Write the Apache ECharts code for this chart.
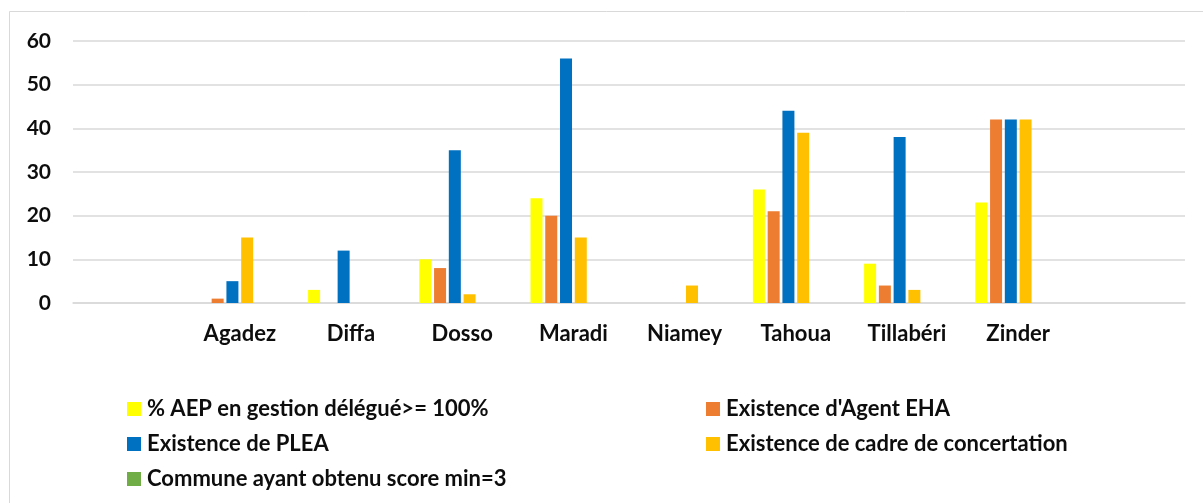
<!DOCTYPE html>
<html>
<head>
<meta charset="utf-8">
<script src="https://cdn.jsdelivr.net/npm/echarts@6/dist/echarts.min.js"></script>
<style>
  html, body { margin: 0; padding: 0; background: #fff; }
  #chart { width: 1203px; height: 503px; }
</style>
</head>
<body>
<div id="chart"></div>
<script>
// empty slots at both ends, as in the source chart
const regions = [' ', 'Agadez', 'Diffa', 'Dosso', 'Maradi', 'Niamey', 'Tahoua', 'Tillabéri', 'Zinder', '  ']

const aepGestion = [null, 0, 3, 10, 24, 0, 26, 9, 23, null]
const agentEha = [null, 1, 0, 8, 20, 0, 21, 4, 42, null]
const plea = [null, 5, 12, 35, 56, 0, 44, 38, 42, null]
const cadreConcertation = [null, 15, 0, 2, 15, 4, 39, 3, 42, null]
const scoreMin3 = [null, 0, 0, 0, 0, 0, 0, 0, 0, null]
const sixth = [null, 0, 0, 0, 0, 0, 0, 0, 0, null]

const yTicks = { min: 0, max: 60, interval: 10 }

const FONT = 'Lato, "Open Sans", sans-serif'
const TXT = '#0d0d0d'

const seriesDefs = [
  { name: '% AEP en gestion délégué>= 100%', data: aepGestion, color: '#FFFF00' },
  { name: "Existence d'Agent EHA", data: agentEha, color: '#ED7D31' },
  { name: 'Existence de PLEA', data: plea, color: '#0070C0' },
  { name: 'Existence de cadre de concertation', data: cadreConcertation, color: '#FFC000' },
  { name: 'Commune ayant obtenu score min=3', data: scoreMin3, color: '#70AD47' },
  { name: 'hidden', data: sixth, color: '#A5A5A5' },
]

const chart = echarts.init(document.getElementById('chart'))

const legendBase = {
  orient: 'vertical',
  icon: 'rect',
  itemWidth: 14,
  itemHeight: 14,
  itemGap: 9,
  padding: 0,
  selectedMode: false,
  textStyle: { fontFamily: FONT, fontWeight: 'bold', fontSize: 22, color: TXT, lineHeight: 26, padding: [0, 0, 0, 1] },
}

chart.setOption({
  animation: false,
  backgroundColor: '#fff',
  graphic: [{
    type: 'rect',
    shape: { x: 9.5, y: 11.5, width: 1210, height: 510 },
    style: { fill: 'none', stroke: '#d9d9d9', lineWidth: 1 },
    silent: true,
  }],
  grid: { left: 73, right: 18, top: 41, bottom: 200 },
  legend: [
    Object.assign({}, legendBase, {
      left: 127, top: 396,
      data: [seriesDefs[0].name, seriesDefs[2].name, seriesDefs[4].name],
    }),
    Object.assign({}, legendBase, {
      left: 706, top: 396,
      data: [seriesDefs[1].name, seriesDefs[3].name],
    }),
  ],
  xAxis: {
    type: 'category',
    data: regions,
    axisLine: { lineStyle: { color: '#d9d9d9', width: 1.5 } },
    axisTick: { show: false },
    axisLabel: { fontFamily: FONT, fontWeight: 'bold', fontSize: 22, color: TXT, margin: 20, interval: 0 },
  },
  yAxis: {
    type: 'value',
    min: yTicks.min,
    max: yTicks.max,
    interval: yTicks.interval,
    axisLine: { show: false },
    axisTick: { show: false },
    splitLine: { lineStyle: { color: '#d9d9d9', width: 1.5 } },
    axisLabel: { fontFamily: FONT, fontWeight: 'bold', fontSize: 21, color: TXT, margin: 22 },
  },
  series: seriesDefs.map((s) => ({
    type: 'bar',
    name: s.name,
    data: s.data,
    barWidth: 12,
    barGap: '23%',
    itemStyle: { color: s.color },
  })),
})
</script>
</body>
</html>
